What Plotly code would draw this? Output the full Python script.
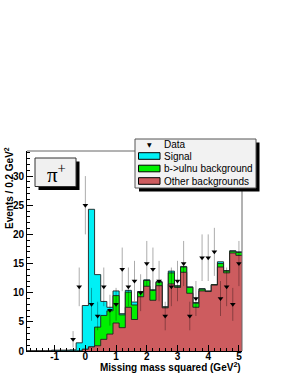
import numpy as np
import plotly.graph_objects as go

# ---------------- data ----------------
bin_centers = np.round(np.arange(-1.8, 5.01, 0.2), 2)  # 35 bins of 0.2 GeV^2

signal = [0, 0, 0, 0, 0.15, 0.15, 0.15, 0.2, 1.4, 7.5, 23.6, 9.0, 2.4, 0.6, 0.8, 0.2,
          0.3, 0.5, 0.1, 0.1, 0.1, 0.1, 0.1, 0.3, 0.1, 0.1, 0.1, 0.1, 0.1, 0.05,
          0.05, 0.3, 0.1, 0.1, 0.1]
bulnu = [0, 0, 0, 0, 0, 0, 0, 0, 0, 0, 0, 3.2, 4.1, 4.0, 4.7, 2.2,
         2.6, 2.5, 0.8, 1.0, 1.7, 0.6, 0.1, 1.9, 0.2, 0.9, 1.0, 0.7, 0.3, 0.05,
         0.05, 0.6, 0.3, 0.3, 0.5]
other = [0, 0, 0, 0, 0, 0, 0, 0, 0, 0.3, 0.7, 0.9, 2.0, 2.9, 4.8, 4.0,
         7.5, 5.4, 9.3, 11.1, 8.7, 11.2, 7.4, 11.5, 10.9, 13.5, 9.9, 7.5, 10.3, 10.2,
         11.3, 14.4, 13.4, 16.8, 16.4]
data_x = [-0.4, -0.2, 0.0, 0.2, 0.4, 0.6, 0.8, 1.0, 1.2, 1.4, 1.6, 1.8, 2.0, 2.2,
          2.4, 2.6, 2.8, 3.0, 3.2, 3.4, 3.6, 3.8, 4.0, 4.2, 4.4, 4.6, 4.8, 5.0]
data_y = [2, 11, 25, 8, 6, 11, 7, 8, 14, 11, 12, 10, 15, 14,
          12, 6, 11, 12, 15, 6, 9, 16, 16, 17, 9, 11, 8, 15]

x_ticks = [-1, 0, 1, 2, 3, 4, 5]
y_ticks = [0, 5, 10, 15, 20, 25, 30]

legend_labels = ["Data", "Signal", "b->ulnu background", "Other backgrounds"]
col_signal = "#00f0f5"
col_bulnu = "#00f000"
col_other = "#cd5c5f"

# ---------------- figure ----------------
W, H = 291, 376
ML, MR, MT, MB = 27, 49, 151, 25


def px(x):
    return (x - ML) / (W - ML - MR)


def py(y):
    return 1 - (y - MT) / (H - MT - MB)


bw = 0.2
edges = np.append(bin_centers - bw / 2, bin_centers[-1] + bw / 2)
s_other = np.array(other)
s_green = s_other + np.array(bulnu)
s_total = s_green + np.array(signal)

fig = go.Figure()
for vals, col in [(s_total, col_signal), (s_green, col_bulnu), (s_other, col_other)]:
    fig.add_trace(go.Scatter(
        x=edges, y=np.append(vals, vals[-1]), mode="lines",
        line=dict(shape="hv", color="#202020", width=0.9),
        fill="tozeroy", fillcolor=col, showlegend=False, hoverinfo="skip"))

fig.add_trace(go.Scatter(
    x=data_x, y=data_y, mode="markers",
    marker=dict(symbol="triangle-down", size=5, color="black"),
    error_y=dict(type="data", array=np.sqrt(data_y), color="rgba(0,0,0,0.33)",
                 thickness=1, width=0),
    showlegend=False))

axis_font = dict(family="Liberation Sans, Arial", size=10, color="black", weight="bold")
fig.update_xaxes(range=[-1.9, 5.1], tickvals=x_ticks, ticktext=[str(v) for v in x_ticks],
                 ticks="inside", ticklen=6, tickcolor="black", showline=True,
                 linecolor="black", linewidth=1, showgrid=False, zeroline=False,
                 tickfont=axis_font, ticklabelstandoff=-4, automargin=False,
                 minor=dict(dtick=0.2, tick0=0, ticks="inside", ticklen=3,
                            tickcolor="black", showgrid=False))
fig.update_yaxes(range=[0, 34.3], tickvals=y_ticks, ticktext=[str(v) for v in y_ticks],
                 ticks="inside", ticklen=6, tickcolor="black", showline=True,
                 linecolor="black", linewidth=1, showgrid=False, zeroline=False,
                 tickfont=axis_font, automargin=False,
                 minor=dict(dtick=1, tick0=0, ticks="inside", ticklen=3,
                            tickcolor="black", showgrid=False))

shapes = []
# frame top and right
shapes.append(dict(type="line", xref="paper", yref="paper", x0=0, x1=1, y0=1, y1=1,
                   line=dict(color="#666", width=1), layer="above"))
shapes.append(dict(type="line", xref="paper", yref="paper", x0=1, x1=1, y0=0, y1=1,
                   line=dict(color="#666", width=1), layer="above"))
# pi box
shapes.append(dict(type="rect", xref="paper", yref="paper", x0=px(38.5), x1=px(79.5),
                   y0=py(190), y1=py(161.5), fillcolor="black", line=dict(width=0),
                   layer="above"))
shapes.append(dict(type="rect", xref="paper", yref="paper", x0=px(35), x1=px(76),
                   y0=py(186.5), y1=py(158), fillcolor="#f0f0f0",
                   line=dict(color="#333", width=1), layer="above"))
# legend box
shapes.append(dict(type="rect", xref="paper", yref="paper", x0=px(139), x1=px(259.5),
                   y0=py(191.5), y1=py(142.5), fillcolor="black", line=dict(width=0),
                   layer="above"))
shapes.append(dict(type="rect", xref="paper", yref="paper", x0=px(135), x1=px(256),
                   y0=py(188), y1=py(139), fillcolor="#f2f2f2",
                   line=dict(color="#555", width=1), layer="above"))
rows = [144.5, 156, 168.5, 181]
for r, col in zip(rows[1:], [col_signal, col_bulnu, col_other]):
    shapes.append(dict(type="rect", xref="paper", yref="paper", x0=px(138.5), x1=px(160),
                       y0=py(r + 3.3), y1=py(r - 3.3), fillcolor=col,
                       line=dict(color="black", width=1), layer="above"))

annotations = []
leg_font = dict(family="Liberation Sans, Arial", size=10, color="black")
for r, lab in zip(rows, legend_labels):
    annotations.append(dict(x=px(162), y=py(r), xref="paper", yref="paper", text=lab,
                            showarrow=False, xanchor="left", yanchor="middle", font=leg_font))
annotations.append(dict(x=px(149), y=py(rows[0]), xref="paper", yref="paper", text="▼",
                        showarrow=False, xanchor="center", yanchor="middle",
                        font=dict(family="DejaVu Sans", size=6, color="black")))
annotations.append(dict(x=px(56), y=py(173), xref="paper", yref="paper",
                        text="π<sup>+</sup>", showarrow=False, xanchor="center",
                        yanchor="middle",
                        font=dict(family="Liberation Serif, Times New Roman", size=21,
                                  color="black")))
annotations.append(dict(x=px(243), y=py(366.5), xref="paper", yref="paper",
                        text="Missing mass squared (GeV<sup>2</sup>)", showarrow=False,
                        xanchor="right", yanchor="middle", font=axis_font))
annotations.append(dict(x=px(9), y=py(145), xref="paper", yref="paper",
                        text="Events / 0.2 GeV<sup>2</sup>", textangle=-90,
                        showarrow=False, xanchor="center", yanchor="top", font=axis_font))

fig.update_layout(width=W, height=H, margin=dict(l=ML, r=MR, t=MT, b=MB),
                  paper_bgcolor="white", plot_bgcolor="white", shapes=shapes,
                  annotations=annotations, showlegend=False)

fig.write_html("out.html", config={"displayModeBar": False},
               post_script="document.body.style.margin='0';")
